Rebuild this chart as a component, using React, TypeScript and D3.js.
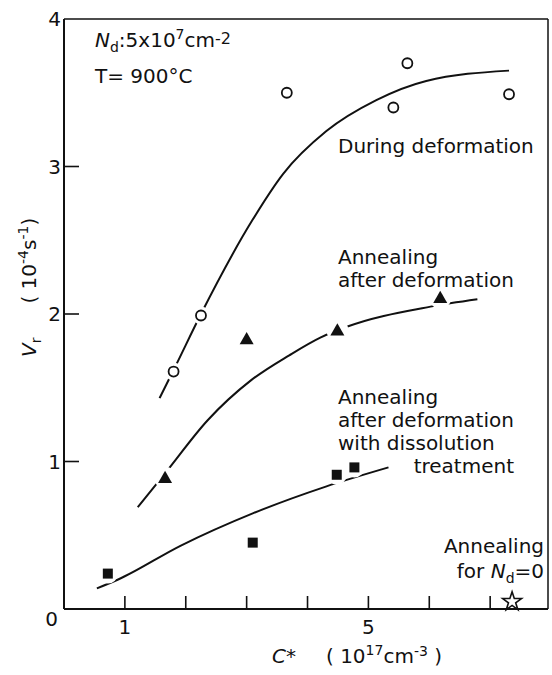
import React from "react";
import * as d3 from "d3";

const W = 552;
const H = 675;

// During deformation (open circles)
const circX = [1.8, 2.25, 3.66, 5.41, 5.64, 7.31];
const circY = [1.61, 1.99, 3.5, 3.4, 3.7, 3.49];
const circCurveX = [1.57, 1.8, 2.25, 3.1, 3.6, 4.31, 5.13, 5.95, 7.31];
const circCurveY = [1.43, 1.62, 2.0, 2.64, 2.95, 3.24, 3.45, 3.58, 3.65];

// Annealing after deformation (filled triangles)
const triX = [1.66, 3.0, 4.49, 6.18];
const triY = [0.89, 1.83, 1.89, 2.11];
const triCurveX = [1.21, 1.66, 2.36, 3.07, 3.7, 4.21, 4.62, 6.02, 6.79];
const triCurveY = [0.69, 0.92, 1.28, 1.55, 1.72, 1.84, 1.91, 2.05, 2.1];

// Annealing after deformation with dissolution treatment (filled squares)
const sqX = [0.72, 3.1, 4.48, 4.77];
const sqY = [0.24, 0.45, 0.91, 0.96];
const sqCurveX = [0.54, 0.89, 1.92, 3.11, 4.3, 5.33];
const sqCurveY = [0.14, 0.2, 0.43, 0.65, 0.83, 0.96];

// Annealing for Nd = 0 (open star)
const starX = [7.36];
const starY = [0.05];

const xTicks = [1, 2, 3, 4, 5, 6, 7];
const xTickLabels = ["1", "", "", "", "5", "", ""];
const yTicks = [1, 2, 3];
const yTickLabels = ["0", "1", "2", "3", "4"];

const FONT = "'DejaVu Sans', sans-serif";

export default function App() {
  const x = d3.scaleLinear().domain([0, 7.95]).range([64, 548]);
  const y = d3.scaleLinear().domain([0, 4]).range([609, 19]);

  const line = d3
    .line<[number, number]>()
    .x((d) => x(d[0]))
    .y((d) => y(d[1]))
    .curve(d3.curveMonotoneX);

  const zip = (a: number[], b: number[]) => a.map((v, i) => [v, b[i]] as [number, number]);

  const triPath = (cx: number, cy: number) => {
    const s = 7;
    return `M${cx},${cy - s} L${cx + s},${cy + s * 0.75} L${cx - s},${cy + s * 0.75} Z`;
  };
  const star = d3.symbol().type(d3.symbolStar).size(110)();

  const stroke = "#111";
  const fs = 20;
  const sub = 14;

  return (
    <svg
      width={W}
      height={H}
      style={{ position: "absolute", left: 0, top: 0, background: "#fff" }}
      fontFamily={FONT}
    >
      <rect x={0} y={0} width={W} height={H} fill="#fff" />
      {/* frame */}
      <line x1={x(0)} x2={x(0)} y1={y(0)} y2={y(4)} stroke={stroke} strokeWidth={2} />
      <line x1={x(0)} x2={x(7.95)} y1={y(0)} y2={y(0)} stroke={stroke} strokeWidth={2} />
      <line x1={x(0)} x2={x(7.95)} y1={y(4)} y2={y(4)} stroke={stroke} strokeWidth={1.5} />
      <line x1={x(7.95)} x2={x(7.95)} y1={y(0)} y2={y(4)} stroke={stroke} strokeWidth={1.5} />

      {/* ticks */}
      {xTicks.map((t) => (
        <line key={"xt" + t} x1={x(t)} x2={x(t)} y1={y(0)} y2={y(0) - 13} stroke={stroke} strokeWidth={1.6} />
      ))}
      {yTicks.map((t) => (
        <line key={"yt" + t} x1={x(0)} x2={x(0) + 15} y1={y(t)} y2={y(t)} stroke={stroke} strokeWidth={1.6} />
      ))}
      {xTicks.map((t, i) =>
        xTickLabels[i] ? (
          <text key={"xl" + t} x={x(t)} y={y(0) + 25} textAnchor="middle" fontSize={fs} fill={stroke}>
            {xTickLabels[i]}
          </text>
        ) : null
      )}
      {yTickLabels.map((l, i) =>
        i === 0 ? (
          <text key={"yl" + i} x={x(0) - 6} y={y(0) + 17} textAnchor="end" fontSize={fs} fill={stroke}>
            {l}
          </text>
        ) : (
          <text key={"yl" + i} x={x(0) - 3} y={y(i) + 7} textAnchor="end" fontSize={fs} fill={stroke}>
            {l}
          </text>
        )
      )}

      {/* curves */}
      <path d={line(zip(circCurveX, circCurveY)) || ""} fill="none" stroke={stroke} strokeWidth={2} />
      <path d={line(zip(triCurveX, triCurveY)) || ""} fill="none" stroke={stroke} strokeWidth={2} />
      <path d={line(zip(sqCurveX, sqCurveY)) || ""} fill="none" stroke={stroke} strokeWidth={2} />

      {/* white halos to break the lines around markers */}
      {circX.map((v, i) => (
        <circle key={"hc" + i} cx={x(v)} cy={y(circY[i])} r={9} fill="#fff" />
      ))}
      {triX.map((v, i) => (
        <circle key={"ht" + i} cx={x(v)} cy={y(triY[i])} r={11} fill="#fff" />
      ))}
      {sqX.map((v, i) => (
        <circle key={"hs" + i} cx={x(v)} cy={y(sqY[i])} r={10} fill="#fff" />
      ))}

      {/* markers */}
      {circX.map((v, i) => (
        <circle key={"c" + i} cx={x(v)} cy={y(circY[i])} r={5} fill="#fff" stroke={stroke} strokeWidth={1.8} />
      ))}
      {triX.map((v, i) => (
        <path key={"t" + i} d={triPath(x(v), y(triY[i]))} fill={stroke} />
      ))}
      {sqX.map((v, i) => (
        <rect key={"s" + i} x={x(v) - 5} y={y(sqY[i]) - 5} width={10} height={10} fill={stroke} />
      ))}
      {starX.map((v, i) => (
        <path
          key={"st" + i}
          d={star || ""}
          transform={`translate(${x(v)},${y(starY[i])})`}
          fill="#fff"
          stroke={stroke}
          strokeWidth={1.6}
        />
      ))}

      {/* annotations */}
      <text x={95} y={47} fontSize={fs} fill={stroke}>
        <tspan fontStyle="italic">N</tspan>
        <tspan fontSize={sub} dy={5}>d</tspan>
        <tspan dy={-5}>:5x10</tspan>
        <tspan fontSize={sub} dy={-8}>7</tspan>
        <tspan dy={8}>cm</tspan>
        <tspan fontSize={16} dy={-3}>-2</tspan>
      </text>
      <text x={95} y={83} fontSize={fs} fill={stroke}>
        T= 900°C
      </text>
      <text x={338} y={153} fontSize={fs} fill={stroke}>
        During deformation
      </text>
      <text x={338} y={264} fontSize={fs} fill={stroke}>
        Annealing
      </text>
      <text x={338} y={287} fontSize={fs} fill={stroke}>
        after deformation
      </text>
      <text x={338} y={404} fontSize={fs} fill={stroke}>
        Annealing
      </text>
      <text x={338} y={427} fontSize={fs} fill={stroke}>
        after deformation
      </text>
      <text x={338} y={450} fontSize={fs} fill={stroke}>
        with dissolution
      </text>
      <text x={514} y={473} fontSize={fs} fill={stroke} textAnchor="end">
        treatment
      </text>
      <text x={544} y={553} fontSize={fs} fill={stroke} textAnchor="end">
        Annealing
      </text>
      <text x={544} y={578} fontSize={fs} fill={stroke} textAnchor="end">
        <tspan>for </tspan>
        <tspan fontStyle="italic">N</tspan>
        <tspan fontSize={sub} dy={5}>d</tspan>
        <tspan dy={-5}>=0</tspan>
      </text>

      {/* x axis label */}
      <text x={272} y={663} fontSize={fs} fill={stroke}>
        <tspan fontStyle="italic">C</tspan>
        <tspan>*</tspan>
        <tspan dx={30}>( 10</tspan>
        <tspan fontSize={sub} dy={-8}>17</tspan>
        <tspan dy={8}>cm</tspan>
        <tspan fontSize={sub} dy={-7}>-3</tspan>
        <tspan dy={7}> )</tspan>
      </text>

      {/* y axis label */}
      <text transform={`translate(36,357) rotate(-90)`} fontSize={fs} fill={stroke}>
        <tspan fontStyle="italic">V</tspan>
        <tspan fontSize={sub} dy={5}>r</tspan>
        <tspan dy={-5} dx={34}>( 10</tspan>
        <tspan fontSize={sub} dy={-8}>-4</tspan>
        <tspan dy={8}>s</tspan>
        <tspan fontSize={sub} dy={-8}>-1</tspan>
        <tspan dy={8}>)</tspan>
      </text>
    </svg>
  );
}
